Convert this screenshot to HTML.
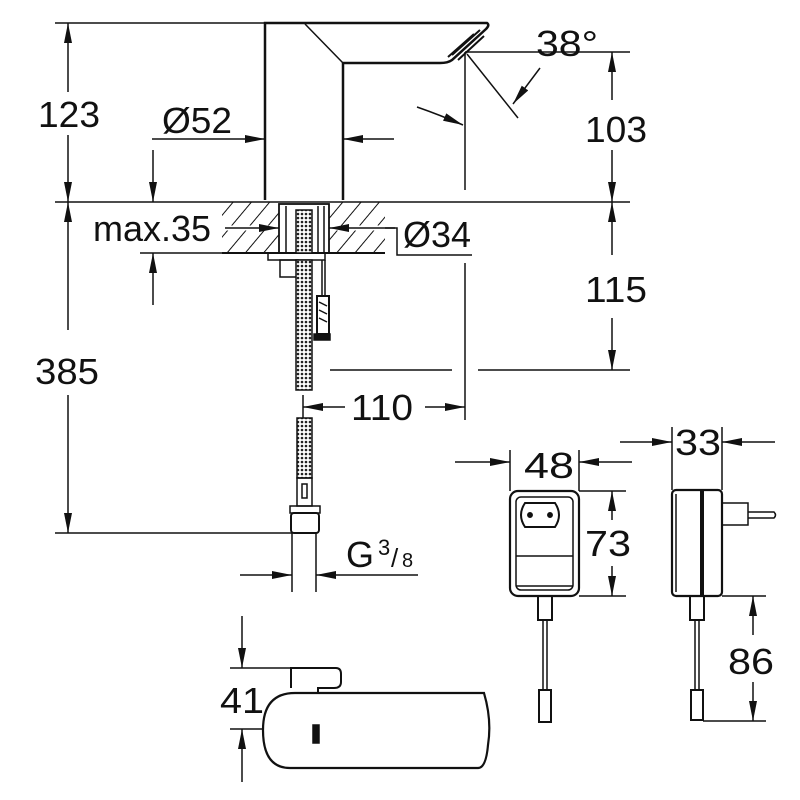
<!DOCTYPE html>
<html><head><meta charset="utf-8"><style>
html,body{margin:0;padding:0;background:#fff}
svg{display:block}
text{font-family:"Liberation Sans",sans-serif;font-size:36px;fill:#111}
</style></head><body>
<svg width="800" height="800" viewBox="0 0 800 800" xmlns="http://www.w3.org/2000/svg">
<defs>
<pattern id="h" patternUnits="userSpaceOnUse" width="14" height="14" patternTransform="rotate(40)">
<line x1="0" y1="0" x2="0" y2="14" stroke="#111" stroke-width="2"/>
</pattern>
<pattern id="d" patternUnits="userSpaceOnUse" width="4" height="4">
<rect width="4" height="4" fill="#fff"/><circle cx="2" cy="2" r="1.3" fill="#222"/>
</pattern>
<marker id="a" viewBox="0 0 20 8" refX="20" refY="4" markerWidth="20" markerHeight="8" markerUnits="userSpaceOnUse" orient="auto">
<path d="M0,0 L20,4 L0,8z" fill="#111"/></marker>
</defs>
<g stroke="#111" stroke-width="1.5" fill="none">
<!-- faucet -->
<path d="M265,200 L265,23 L487,23 Q490,25 486,29 L452,60 Q448,63 440,63 L343,63 L343,200" stroke-width="2.5"/>
<line x1="305" y1="24" x2="343" y2="63"/>
<path d="M452,55 L480,30 M458,60 L484,36 M448,57 L474,34" stroke-width="2"/>
<line x1="465" y1="52" x2="465" y2="190"/>
<line x1="465" y1="52" x2="630" y2="52"/>
<line x1="467" y1="54" x2="518" y2="118"/>
<path d="M417,107 Q440,115 463,125" marker-end="url(#a)"/>
<line x1="540" y1="68" x2="513" y2="104" marker-end="url(#a)"/>
<!-- 123 -->
<line x1="55" y1="23" x2="265" y2="23"/>
<line x1="68" y1="92" x2="68" y2="23" marker-end="url(#a)"/>
<line x1="68" y1="135" x2="68" y2="202" marker-end="url(#a)"/>
<!-- baseline -->
<line x1="55" y1="202" x2="630" y2="202"/>
<!-- 52 -->
<line x1="152" y1="139" x2="265" y2="139" marker-end="url(#a)"/>
<line x1="394" y1="139" x2="343" y2="139" marker-end="url(#a)"/>
<!-- max35 -->
<line x1="153" y1="150" x2="153" y2="202" marker-end="url(#a)"/>
<line x1="153" y1="305" x2="153" y2="253" marker-end="url(#a)"/>
<line x1="140" y1="253" x2="222" y2="253"/>
<!-- countertop -->
<rect x="222" y="202" width="57" height="51" fill="url(#h)" stroke="none"/>
<rect x="329" y="202" width="56" height="51" fill="url(#h)" stroke="none"/>
<line x1="222" y1="253" x2="385" y2="253" stroke-width="2"/>
<line x1="222" y1="228" x2="279" y2="228" stroke="#fff" stroke-width="5"/>
<line x1="329" y1="228" x2="385" y2="228" stroke="#fff" stroke-width="5"/>
<line x1="225" y1="228" x2="279" y2="228" marker-end="url(#a)"/>
<line x1="395" y1="228" x2="329" y2="228" marker-end="url(#a)"/>
<path d="M385,228 L397,228 L397,255 L472,255"/>
<rect x="279" y="204" width="50" height="49" stroke-width="1.8"/>
<line x1="286" y1="206" x2="286" y2="253"/>
<line x1="318" y1="206" x2="318" y2="253"/>
<line x1="324" y1="206" x2="324" y2="253"/>
<rect x="296" y="210" width="16" height="43" fill="url(#d)"/>
<!-- below counter -->
<path d="M268,253 L268,260 L325,260 L325,253"/>
<rect x="280" y="260" width="18" height="17"/>
<rect x="296" y="260" width="16" height="130" fill="url(#d)"/>
<line x1="322" y1="260" x2="322" y2="296"/>
<line x1="325" y1="260" x2="325" y2="296"/>
<rect x="317" y="296" width="12" height="38" stroke-width="2"/>
<path d="M319,302 L327,306 M319,310 L327,314 M319,318 L327,322"/>
<rect x="314" y="334" width="16" height="6" fill="#111"/>
<line x1="330" y1="370" x2="452" y2="370"/>
<line x1="478" y1="370" x2="630" y2="370"/>
<line x1="465" y1="263" x2="465" y2="420"/>
<line x1="303" y1="395" x2="303" y2="420"/>
<!-- 103 / 115 -->
<line x1="612" y1="100" x2="612" y2="52" marker-end="url(#a)"/>
<line x1="612" y1="150" x2="612" y2="202" marker-end="url(#a)"/>
<line x1="612" y1="255" x2="612" y2="202" marker-end="url(#a)"/>
<line x1="612" y1="318" x2="612" y2="370" marker-end="url(#a)"/>
<!-- 110 -->
<line x1="345" y1="407" x2="303" y2="407" marker-end="url(#a)"/>
<line x1="425" y1="407" x2="465" y2="407" marker-end="url(#a)"/>
<!-- 385 -->
<line x1="68" y1="330" x2="68" y2="202" marker-end="url(#a)"/>
<line x1="68" y1="395" x2="68" y2="533" marker-end="url(#a)"/>
<line x1="55" y1="533" x2="292" y2="533"/>
<!-- lower hose -->
<rect x="297" y="418" width="15" height="60" fill="url(#d)"/>
<rect x="297" y="478" width="15" height="28"/>
<rect x="302" y="484" width="5" height="14"/>
<rect x="290" y="506" width="30" height="7"/>
<rect x="291" y="513" width="28" height="20" rx="3" stroke-width="2"/>
<line x1="292" y1="533" x2="292" y2="592"/>
<line x1="316" y1="533" x2="316" y2="592"/>
<line x1="240" y1="575" x2="292" y2="575" marker-end="url(#a)"/>
<line x1="418" y1="575" x2="316" y2="575" marker-end="url(#a)"/>
<!-- adapter front -->
<rect x="510" y="491" width="69" height="105" rx="8" stroke-width="2.2"/>
<rect x="516" y="497" width="57" height="93" rx="5"/>
<path d="M525,503 L555,503 Q563,515 555,527 L525,527 Q517,515 525,503z" stroke-width="2"/>
<circle cx="530" cy="515" r="2.2" fill="#111"/><circle cx="550" cy="515" r="2.2" fill="#111"/>
<line x1="516" y1="556" x2="573" y2="556"/>
<line x1="516" y1="586" x2="573" y2="586"/>
<rect x="538" y="596" width="14" height="24" stroke-width="2"/>
<line x1="543" y1="620" x2="543" y2="690"/><line x1="547" y1="620" x2="547" y2="690"/>
<rect x="539" y="690" width="12" height="32" stroke-width="2"/>
<!-- 48 -->
<line x1="510" y1="450" x2="510" y2="491"/>
<line x1="579" y1="450" x2="579" y2="491"/>
<line x1="455" y1="462" x2="510" y2="462" marker-end="url(#a)"/>
<line x1="632" y1="462" x2="579" y2="462" marker-end="url(#a)"/>
<!-- 73 -->
<line x1="579" y1="491" x2="626" y2="491"/>
<line x1="579" y1="596" x2="626" y2="596"/>
<line x1="612" y1="520" x2="612" y2="491" marker-end="url(#a)"/>
<line x1="612" y1="566" x2="612" y2="596" marker-end="url(#a)"/>
<!-- adapter side -->
<rect x="672" y="490" width="50" height="106" rx="4" stroke-width="2.2"/>
<line x1="702" y1="490" x2="702" y2="596" stroke-width="4"/>
<line x1="676" y1="494" x2="676" y2="592"/>
<path d="M722,503 L748,503 L748,525 L722,525"/>
<path d="M748,512 L774,512 Q777,515 774,518 L748,518"/>
<rect x="690" y="596" width="14" height="24" stroke-width="2"/>
<line x1="695" y1="620" x2="695" y2="690"/><line x1="699" y1="620" x2="699" y2="690"/>
<rect x="691" y="690" width="12" height="30" stroke-width="2"/>
<!-- 33 -->
<line x1="672" y1="427" x2="672" y2="490"/>
<line x1="722" y1="427" x2="722" y2="490"/>
<line x1="620" y1="442" x2="672" y2="442" marker-end="url(#a)"/>
<line x1="775" y1="442" x2="722" y2="442" marker-end="url(#a)"/>
<!-- 86 -->
<line x1="722" y1="596" x2="766" y2="596"/>
<line x1="703" y1="721" x2="766" y2="721"/>
<line x1="753" y1="635" x2="753" y2="596" marker-end="url(#a)"/>
<line x1="753" y1="682" x2="753" y2="721" marker-end="url(#a)"/>
<!-- sensor -->
<path d="M295,693 L484,693 Q492,720 488,745 Q486,768 478,768 L290,768 Q263,768 263,730 Q263,693 295,693z" stroke-width="2.2"/>
<path d="M291,688 L291,668 L336,668 Q341,668 341,674 L341,682 Q341,688 334,688 L318,688 L318,693" stroke-width="2"/>
<rect x="313" y="725" width="6" height="18" fill="#111"/>
<line x1="230" y1="668" x2="291" y2="668"/>
<line x1="230" y1="729" x2="263" y2="729"/>
<line x1="242" y1="616" x2="242" y2="668" marker-end="url(#a)"/>
<line x1="242" y1="782" x2="242" y2="729" marker-end="url(#a)"/>
</g>
<text x="38" y="127" textLength="62" lengthAdjust="spacingAndGlyphs">123</text>
<text x="162" y="133" textLength="70" lengthAdjust="spacingAndGlyphs">Ø52</text>
<text x="93" y="241" textLength="118" lengthAdjust="spacingAndGlyphs">max.35</text>
<text x="403" y="247" textLength="68" lengthAdjust="spacingAndGlyphs">Ø34</text>
<text x="536" y="56" textLength="62" lengthAdjust="spacingAndGlyphs">38°</text>
<text x="585" y="142" textLength="62" lengthAdjust="spacingAndGlyphs">103</text>
<text x="585" y="302" textLength="62" lengthAdjust="spacingAndGlyphs">115</text>
<text x="35" y="384" textLength="64" lengthAdjust="spacingAndGlyphs">385</text>
<text x="351" y="420" textLength="62" lengthAdjust="spacingAndGlyphs">110</text>
<text x="346" y="567" textLength="28" lengthAdjust="spacingAndGlyphs">G</text>
<text x="378" y="555" style="font-size:22px">3</text>
<text x="391" y="567" style="font-size:26px">/</text>
<text x="402" y="567" style="font-size:20px">8</text>
<text x="524" y="478" textLength="50" lengthAdjust="spacingAndGlyphs">48</text>
<text x="585" y="556" textLength="46" lengthAdjust="spacingAndGlyphs">73</text>
<text x="675" y="455" textLength="46" lengthAdjust="spacingAndGlyphs">33</text>
<text x="728" y="674" textLength="46" lengthAdjust="spacingAndGlyphs">86</text>
<text x="220" y="713" textLength="44" lengthAdjust="spacingAndGlyphs">41</text>
</svg>
</body></html>
